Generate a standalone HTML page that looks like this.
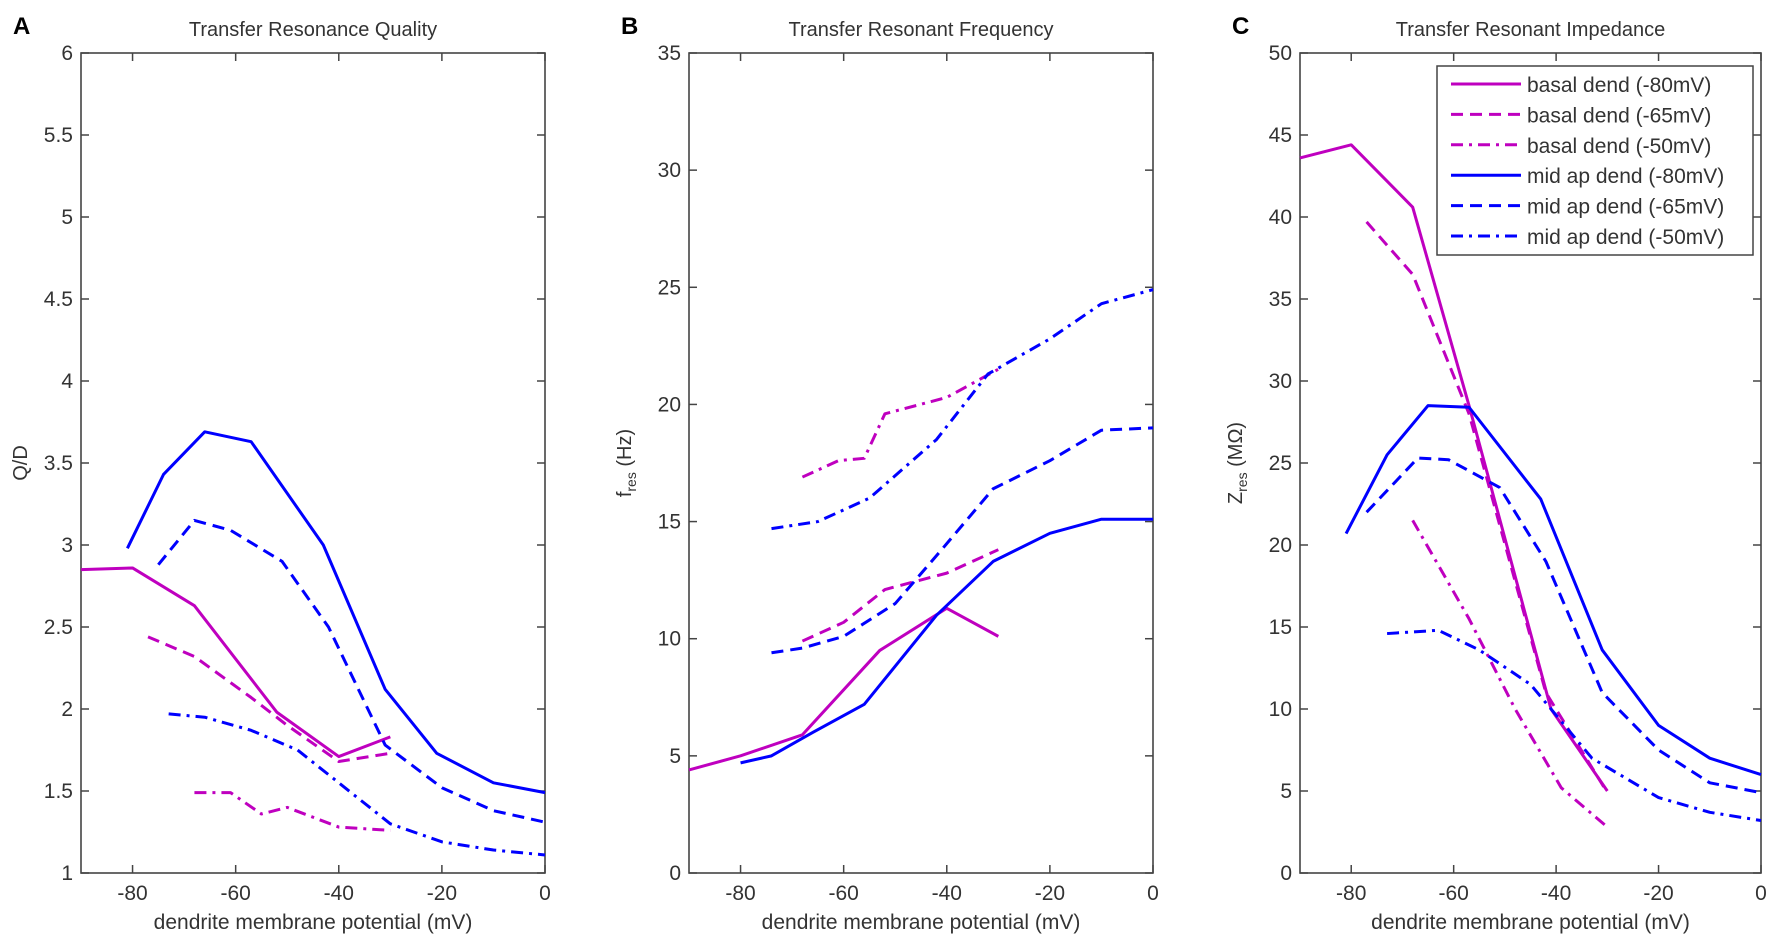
<!DOCTYPE html>
<html><head><meta charset="utf-8">
<style>
body{margin:0;background:#fff;}
svg{display:block;font-family:"Liberation Sans",Arial,sans-serif;}
</style></head>
<body>
<svg id="fig" width="1772" height="942" viewBox="0 0 1772 942" xmlns="http://www.w3.org/2000/svg"></svg>
<script>
// ---- data ----
const xTicks = [-80,-60,-40,-20,0];
const aYTicks = [1,1.5,2,2.5,3,3.5,4,4.5,5,5.5,6];
const bYTicks = [0,5,10,15,20,25,30,35];
const cYTicks = [0,5,10,15,20,25,30,35,40,45,50];
const seriesNames = ["basal dend (-80mV)","basal dend (-65mV)","basal dend (-50mV)","mid ap dend (-80mV)","mid ap dend (-65mV)","mid ap dend (-50mV)"];

const aBasal80 = [[-90,2.85],[-80,2.86],[-68,2.63],[-52,1.98],[-40,1.71],[-30,1.83]];
const aBasal65 = [[-77,2.44],[-68,2.32],[-57,2.07],[-50,1.90],[-40,1.68],[-30,1.73]];
const aBasal50 = [[-68,1.49],[-61,1.49],[-55,1.36],[-50,1.40],[-40,1.28],[-30,1.26]];
const aMid80 = [[-81,2.98],[-74,3.43],[-66,3.69],[-57,3.63],[-43,3.0],[-31,2.12],[-21,1.73],[-10,1.55],[0,1.49]];
const aMid65 = [[-75,2.88],[-68,3.15],[-61,3.09],[-51,2.90],[-42,2.50],[-31,1.78],[-20,1.52],[-10,1.38],[0,1.31]];
const aMid50 = [[-73,1.97],[-66,1.95],[-57,1.87],[-48,1.75],[-40,1.55],[-30,1.30],[-20,1.19],[-10,1.14],[0,1.11]];

const bBasal80 = [[-90,4.4],[-80,5.0],[-68,5.9],[-53,9.5],[-40,11.3],[-30,10.1]];
const bBasal65 = [[-68,9.9],[-60,10.7],[-52,12.1],[-40,12.8],[-30,13.8]];
const bBasal50 = [[-68,16.9],[-61,17.6],[-56,17.7],[-52,19.6],[-40,20.3],[-30,21.5]];
const bMid80 = [[-80,4.7],[-74,5.0],[-66,6.0],[-56,7.2],[-42,11.0],[-31,13.3],[-20,14.5],[-10,15.1],[0,15.1]];
const bMid65 = [[-74,9.4],[-68,9.6],[-60,10.1],[-50,11.5],[-41,13.8],[-31,16.4],[-20,17.6],[-10,18.9],[0,19.0]];
const bMid50 = [[-74,14.7],[-65,15.0],[-55,16.0],[-42,18.5],[-32,21.3],[-20,22.8],[-10,24.3],[0,24.9]];

const cBasal80 = [[-90,43.6],[-80,44.4],[-68,40.6],[-57,28.5],[-41,10],[-30,5.0]];
const cBasal65 = [[-77,39.7],[-68,36.5],[-57,28],[-42,11],[-30,4.9]];
const cBasal50 = [[-68,21.5],[-57,15.5],[-48,10],[-39,5.2],[-30,2.8]];
const cMid80 = [[-81,20.7],[-73,25.5],[-65,28.5],[-57,28.4],[-43,22.8],[-31,13.6],[-20,9.0],[-10,7.0],[0,6.0]];
const cMid65 = [[-77,22],[-67,25.3],[-61,25.2],[-51,23.5],[-42,19],[-31,11],[-20,7.5],[-10,5.5],[0,4.9]];
const cMid50 = [[-73,14.6],[-63,14.8],[-55,13.6],[-45,11.5],[-33,7.0],[-20,4.6],[-10,3.7],[0,3.2]];

// ---- rendering ----
const NS="http://www.w3.org/2000/svg";
const svg=document.getElementById('fig');
const MAG="#bf00bf", BLU="#0000ff";
const styles=[
 {c:MAG,d:""},{c:MAG,d:"12 7"},{c:MAG,d:"12 6 3 6"},
 {c:BLU,d:""},{c:BLU,d:"12 7"},{c:BLU,d:"12 6 3 6"}];
const TOP=53, BOT=873;
function mk(tag,attrs,parent){const e=document.createElementNS(NS,tag);for(const k in attrs)e.setAttribute(k,attrs[k]);(parent||svg).appendChild(e);return e;}

function panel(key,L,R,ymin,ymax,yTicks,title,letter,ylab,ylx,series){
  const g=mk('g',{});
  
  
  const sx=v=>L+(v+90)/90*(R-L);
  const sy=v=>BOT-(v-ymin)/(ymax-ymin)*(BOT-TOP);
  const ax=mk('rect',{x:L,y:TOP,width:R-L,height:BOT-TOP,fill:'none',stroke:'#444','stroke-width':1.6},g);
  
  
  xTicks.forEach(t=>{
    const x=sx(t);
    mk('line',{x1:x,y1:BOT,x2:x,y2:BOT-8,stroke:'#444','stroke-width':1.5},g);
    mk('line',{x1:x,y1:TOP,x2:x,y2:TOP+8,stroke:'#444','stroke-width':1.5},g);
    const tx=mk('text',{x:x,y:BOT+27,'text-anchor':'middle','font-size':21,fill:'#333'},g);
    tx.textContent=t;
    
    
  });
  yTicks.forEach(t=>{
    const y=sy(t);
    mk('line',{x1:L,y1:y,x2:L+8,y2:y,stroke:'#444','stroke-width':1.5},g);
    mk('line',{x1:R,y1:y,x2:R-8,y2:y,stroke:'#444','stroke-width':1.5},g);
    const tx=mk('text',{x:L-8,y:y+7,'text-anchor':'end','font-size':21,fill:'#333'},g);
    tx.textContent=t;
    
    
  });
  const ti=mk('text',{x:(L+R)/2,y:36,'text-anchor':'middle','font-size':20,fill:'#333'},g);
  ti.textContent=title;
  
  
  const le=mk('text',{x:L-68,y:34,'font-size':24,'font-weight':'bold',fill:'#000'},g);
  le.textContent=letter;
  
  
  const xl=mk('text',{x:(L+R)/2,y:929,'text-anchor':'middle','font-size':21,fill:'#333'},g);
  xl.textContent='dendrite membrane potential (mV)';
  
  
  const X=L-ylx, Y=(TOP+BOT)/2;
  const yl=mk('text',{x:X,y:Y,'text-anchor':'middle','font-size':20,fill:'#333',transform:`rotate(-90 ${X} ${Y})`},g);
  yl.innerHTML=ylab;
  
  
  series.forEach((s,i)=>{
    const p=mk('polyline',{points:s.map(q=>sx(q[0])+','+sy(q[1])).join(' '),fill:'none',stroke:styles[i].c,'stroke-width':3,'stroke-dasharray':styles[i].d,'stroke-linejoin':'round'},g);
    
    
  });
}
panel('a',81,545,1,6,aYTicks,'Transfer Resonance Quality','A','Q/D',54,[aBasal80,aBasal65,aBasal50,aMid80,aMid65,aMid50]);
panel('b',689,1153,0,35,bYTicks,'Transfer Resonant Frequency','B','f<tspan font-size="14" dy="5">res</tspan><tspan dy="-5"> (Hz)</tspan>',58,[bBasal80,bBasal65,bBasal50,bMid80,bMid65,bMid50]);
panel('c',1300,1761,0,50,cYTicks,'Transfer Resonant Impedance','C','Z<tspan font-size="14" dy="5">res</tspan><tspan dy="-5"> (MΩ)</tspan>',58,[cBasal80,cBasal65,cBasal50,cMid80,cMid65,cMid50]);

// legend
const lg=mk('g',{});


mk('rect',{x:1437,y:66,width:316,height:189,fill:'#fff',stroke:'#444','stroke-width':1.5},lg);
seriesNames.forEach((n,i)=>{
  const y=84+i*30.4;
  const ln=mk('line',{x1:1451,y1:y,x2:1521,y2:y,stroke:styles[i].c,'stroke-width':3,'stroke-dasharray':styles[i].d},lg);
  
  
  const t=mk('text',{x:1527,y:y+8,'font-size':21,fill:'#333'},lg);
  t.textContent=n;
  
  
});
</script>
</body></html>
